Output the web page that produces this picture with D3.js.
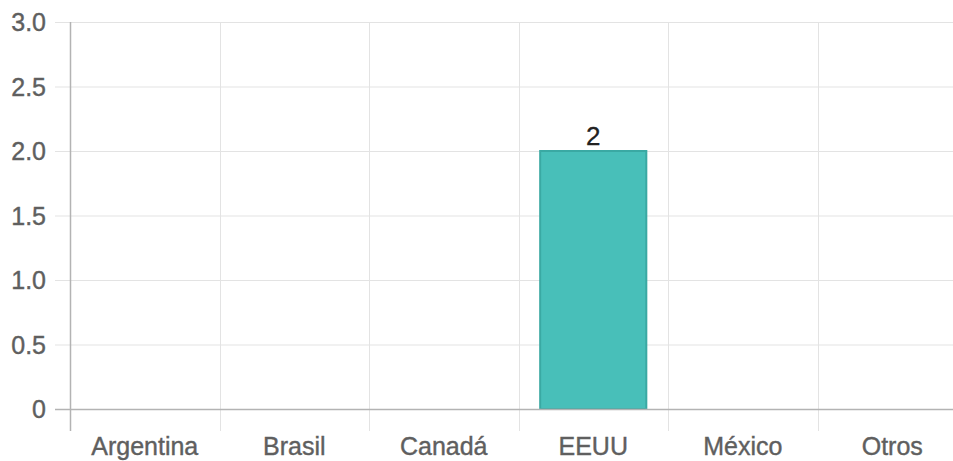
<!DOCTYPE html>
<html>
<head>
<meta charset="utf-8">
<script src="https://cdn.jsdelivr.net/npm/d3@7"></script>
<style>
  body { margin: 0; background: #fff; }
  text { font-family: "Liberation Sans", Arial, sans-serif; }
</style>
</head>
<body>
<div id="chart-area"></div>
<script>
// data
const countries = ["Argentina", "Brasil", "Canadá", "EEUU", "México", "Otros"]
const counts = [0, 0, 0, 2, 0, 0]
const yTicks = [0, 0.5, 1.0, 1.5, 2.0, 2.5, 3.0]

const W = 953
const H = 461
const LEFT = 70, TOP = 22, BOTTOM_Y = 409, RIGHT_X = 967

const svg = d3.select("#chart-area").append("svg")
  .attr("width", W)
  .attr("height", H)

// scales
const x = d3.scaleBand().domain(countries).range([LEFT, RIGHT_X])
const y = d3.scaleLinear().domain([0, 3]).range([BOTTOM_Y, TOP])

// horizontal grid + y ticks
svg.append("g").selectAll("line")
  .data(yTicks.filter(d => d > 0))
  .join("line")
  .attr("x1", LEFT - 15).attr("x2", W)
  .attr("y1", d => y(d) + 0.5).attr("y2", d => y(d) + 0.5)
  .attr("stroke", "#e3e3e3")

// vertical grid
svg.append("g").selectAll("line")
  .data(countries.slice(1))
  .join("line")
  .attr("x1", d => Math.round(x(d)) + 0.5).attr("x2", d => Math.round(x(d)) + 0.5)
  .attr("y1", TOP).attr("y2", BOTTOM_Y + 22)
  .attr("stroke", "#e3e3e3")

// bars
const barW = x.bandwidth() * 0.71
const barData = countries.map((c, i) => ({ c, v: counts[i] })).filter(d => d.v > 0)
svg.append("g").selectAll("rect")
  .data(barData)
  .join("rect")
  .attr("x", d => x(d.c) + (x.bandwidth() - barW) / 2)
  .attr("y", d => y(d.v))
  .attr("width", barW)
  .attr("height", d => y(0) - y(d.v))
  .attr("fill", "#48bfb9")
  .attr("stroke", "#3aa9a3")
  .attr("stroke-width", 2)

// value labels
svg.append("g").selectAll("text")
  .data(barData)
  .join("text")
  .attr("x", d => x(d.c) + x.bandwidth() / 2)
  .attr("y", d => y(d.v) - 6)
  .attr("text-anchor", "middle")
  .attr("font-size", 26)
  .attr("fill", "#222")
  .attr("stroke", "#222").attr("stroke-width", 0.3)
  .text(d => d.v)

// axes lines
svg.append("line")
  .attr("x1", LEFT + 0.5).attr("x2", LEFT + 0.5)
  .attr("y1", TOP).attr("y2", BOTTOM_Y + 22)
  .attr("stroke", "#b3b3b3").attr("stroke-width", 1.5)
svg.append("line")
  .attr("x1", LEFT - 15).attr("x2", W)
  .attr("y1", BOTTOM_Y + 0.5).attr("y2", BOTTOM_Y + 0.5)
  .attr("stroke", "#b3b3b3").attr("stroke-width", 1.5)

// y tick labels
svg.append("g").selectAll("text")
  .data(yTicks)
  .join("text")
  .attr("x", 46)
  .attr("y", d => y(d))
  .attr("dy", "0.36em")
  .attr("text-anchor", "end")
  .attr("font-size", 25)
  .attr("fill", "#5f5f5f")
  .attr("stroke", "#5f5f5f").attr("stroke-width", 0.4)
  .text(d => d === 0 ? "0" : d3.format(".1f")(d))

// x tick labels
svg.append("g").selectAll("text")
  .data(countries)
  .join("text")
  .attr("x", d => x(d) + x.bandwidth() / 2)
  .attr("y", 455)
  .attr("text-anchor", "middle")
  .attr("font-size", 25)
  .attr("fill", "#5f5f5f")
  .attr("stroke", "#5f5f5f").attr("stroke-width", 0.4)
  .text(d => d)
</script>
</body>
</html>
